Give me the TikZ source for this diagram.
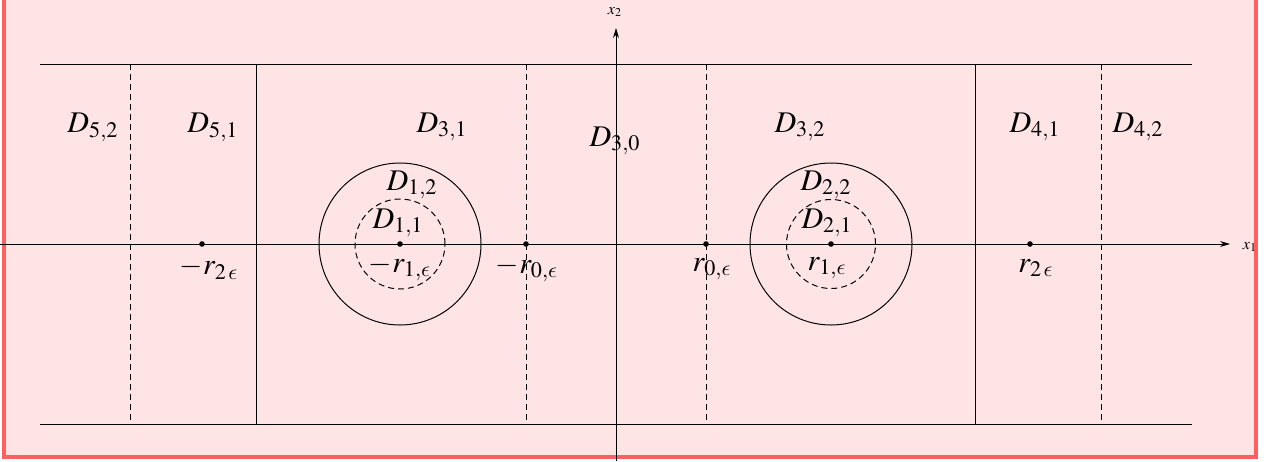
\documentclass[tikz,border=0pt]{standalone}
\usepackage{mathptmx}
\DeclareSymbolFont{cmletters}{OML}{cmm}{m}{it}
\DeclareMathSymbol{\lunateeps}{\mathord}{cmletters}{"0F}
\usetikzlibrary{arrows.meta}
\definecolor{bgpink}{RGB}{255,228,230}
\definecolor{bordred}{RGB}{255,95,95}
\begin{document}
\begin{tikzpicture}[x=0.5pt,y=-0.5pt,line width=0.5pt,
  lbl/.style={inner sep=0pt,font=\fontsize{15}{18}\selectfont},
  small/.style={inner sep=0pt,font=\fontsize{8}{9}\selectfont},
  dot/.style={circle,fill,inner sep=0pt,minimum size=2.8pt},
  dsh/.style={dash pattern=on 3pt off 2pt},
  ring/.style={circle,draw,inner sep=0pt},
  axis/.style={-{Stealth[length=5pt,width=3pt]}}]
\useasboundingbox (0,0) rectangle (1268,461);
\fill[bgpink] (4,-5) rectangle (1256,457);
\draw[bordred,line width=1.6pt] (4,-5) -- (4,457) -- (1256,457) -- (1256,-5);
% strip horizontal lines
\coordinate (tl) at (40,64); \coordinate (tr) at (1192,64);
\coordinate (bl) at (40,424); \coordinate (br) at (1192,424);
\draw (tl) -- (tr);
\draw (bl) -- (br);
% vertical separators
\foreach \nm/\xx/\st in {a/130/dsh,b/256/solid,c/526/dsh,d/706/dsh,e/975/solid,f/1101/dsh}{
  \coordinate (\nm t) at (\xx,64); \coordinate (\nm b) at (\xx,424);
  \draw[\st] (\nm t) -- (\nm b);
}
% axes
\coordinate (xs) at (0,244); \coordinate (xe) at (1230,244);
\coordinate (ys) at (616,461); \coordinate (ye) at (616,28);
\draw[axis] (xs) -- (xe);
\draw[axis] (ys) -- (ye);
\node[small] (x1) at (1250,247) {$x_1$};
\node[small] (x2) at (615,12) {$x_2$};
% circles
\node[ring,minimum size=81pt] (c1o) at (400,244) {};
\node[ring,dsh,minimum size=45pt] (c1i) at (400,244) {};
\node[ring,minimum size=81pt] (c2o) at (831,244) {};
\node[ring,dsh,minimum size=44.5pt] (c2i) at (831,244) {};
% points
\node[dot] (pm2) at (202,244) {};
\node[dot] (pm1) at (400,244) {};
\node[dot] (pm0) at (526,244) {};
\node[dot] (pp0) at (706,244) {};
\node[dot] (pp1) at (831,244) {};
\node[dot] (pp2) at (1030,244) {};
% point labels
\node[lbl] (lm2) at (209,268) {$-r_{2\,\lunateeps}$};
\node[lbl] (lm1) at (400,268) {$-r_{1,\lunateeps}$};
\node[lbl] (lm0) at (527,269) {$-r_{0,\lunateeps}$};
\node[lbl] (lp0) at (712,269) {$r_{0,\lunateeps}$};
\node[lbl] (lp1) at (827,268) {$r_{1,\lunateeps}$};
\node[lbl] (lp2) at (1036,268) {$r_{2\,\lunateeps}$};
% region labels
\node[lbl] (d52) at (93,127) {$D_{5,2}$};
\node[lbl] (d51) at (213,127) {$D_{5,1}$};
\node[lbl] (d31) at (442,127) {$D_{3,1}$};
\node[lbl] (d30) at (615,141) {$D_{3,0}$};
\node[lbl] (d32) at (800,127) {$D_{3,2}$};
\node[lbl] (d41) at (1035,127) {$D_{4,1}$};
\node[lbl] (d42) at (1138,127) {$D_{4,2}$};
\node[lbl] (d12) at (412,185) {$D_{1,2}$};
\node[lbl] (d11) at (398,223) {$D_{1,1}$};
\node[lbl] (d22) at (826,185) {$D_{2,2}$};
\node[lbl] (d21) at (827,223) {$D_{2,1}$};
\end{tikzpicture}
\end{document}
